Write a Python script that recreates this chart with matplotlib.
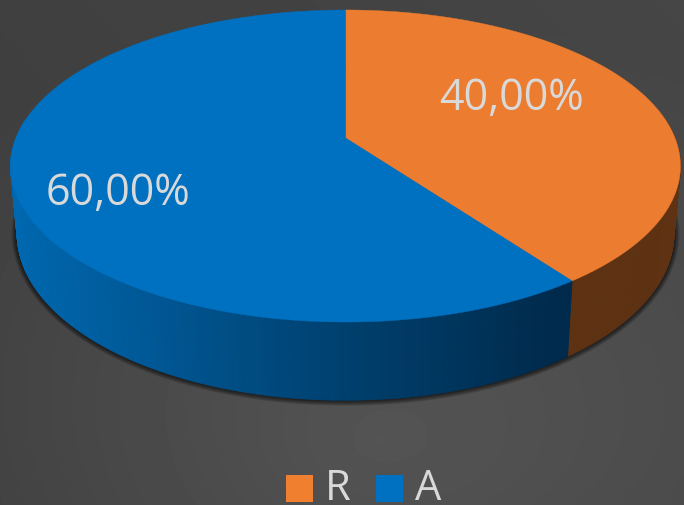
import numpy as np
import matplotlib as mpl
import matplotlib.pyplot as plt
from matplotlib.patches import Polygon, Rectangle

mpl.use('Agg')

categories = ['R', 'A']
shares = [40.0, 60.0]
labels = ['40,00%', '60,00%']
colors = ['#EC7C30', '#0070C0']
legend_colors = ['#F08030', '#0070C0']
label_pos = [(512, 99), (118, 194)]
legend_box_x = [286, 376]
legend_text_x = [325, 415]


def top_xy(theta):
    # circle seen in perspective, theta clockwise from 12 o'clock
    persp = 1 + 0.1795 * np.cos(theta)
    return 345.5 + 329.5 * np.sin(theta) / persp, 138 - 151 * np.cos(theta) / persp


def bottom_xy(theta):
    persp = 1 + 0.1795 * np.cos(theta)
    return 345.5 + 323 * np.sin(theta) / persp, 204 - 161 * np.cos(theta) / persp


fig = plt.figure(figsize=(6.84, 5.05), dpi=100)
ax = fig.add_axes([0, 0, 1, 1])

# background glow, lighter towards the bottom middle
yy, xx = np.mgrid[0:505, 0:684]
dist = np.hypot((xx - 380) / 684, (yy - 440) / 505)
shade = 80 - 20 * np.clip(dist / 0.85, 0, 1) + 4 * (1 - yy / 505) + 6 * (xx / 684)
ax.imshow(shade / 255, cmap='gray', vmin=0, vmax=1, extent=(0, 684, 505, 0), aspect='auto', zorder=0)
ax.set_xlim(0, 684)
ax.set_ylim(505, 0)
ax.axis('off')

# shadow under the pie
theta_all = np.linspace(0, 2 * np.pi, 400)
bx, by = bottom_xy(theta_all)
for lw in np.linspace(8, 1, 8):
    ax.plot(bx, by, color='black', lw=lw, alpha=0.1, zorder=1, solid_capstyle='round')

# wedges, starting at 12 o'clock and going clockwise
edges = 2 * np.pi * np.cumsum([0] + shares) / sum(shares)
side_left = np.array([0, 104, 176]) / 255
side_mid = np.array([0, 64, 110]) / 255
side_right = np.array([0, 42, 76]) / 255
side_orange = np.array([94, 50, 19]) / 255

for i in range(len(shares)):
    theta = np.linspace(edges[i], edges[i + 1], 300)
    # front wall in thin strips, only where it faces the viewer
    for t0, t1 in zip(theta[:-1], theta[1:]):
        tm = (t0 + t1) / 2
        if np.cos(tm) > 0.12:
            continue
        x0, y0 = top_xy(t0)
        x1, y1 = top_xy(t1)
        x2, y2 = bottom_xy(t1)
        x3, y3 = bottom_xy(t0)
        if i == 0:
            col = side_orange
        else:
            pos = (x0 + x1) / 2
            if pos < 345:
                col = side_left + (side_mid - side_left) * np.clip((pos - 15) / 330, 0, 1)
            else:
                col = side_mid + (side_right - side_mid) * np.clip((pos - 345) / 215, 0, 1)
        ax.add_patch(Polygon([(x0, y0), (x1, y1), (x2, y2), (x3, y3)], closed=True,
                             facecolor=col, edgecolor=col, lw=0.6, zorder=2))

for i in range(len(shares)):
    theta = np.linspace(edges[i], edges[i + 1], 300)
    tx, ty = top_xy(theta)
    pts = np.column_stack([np.r_[345.5, tx], np.r_[138, ty]])
    ax.add_patch(Polygon(pts, closed=True, facecolor=colors[i], edgecolor=colors[i], lw=0.3, zorder=3))
    ax.text(label_pos[i][0], label_pos[i][1], labels[i], color='#D9D9D9', fontsize=31,
            family='Open Sans', ha='center', va='center', zorder=4)

# legend by hand, it sits tight against the bottom edge
for i, name in enumerate(categories):
    ax.add_patch(Rectangle((legend_box_x[i], 475), 27, 27, facecolor=legend_colors[i],
                           edgecolor='none', zorder=4))
    ax.text(legend_text_x[i], 500, name, color='#D9D9D9', fontsize=30, family='Open Sans',
            ha='left', va='baseline', zorder=4)

fig.savefig('out.png', dpi=100)
